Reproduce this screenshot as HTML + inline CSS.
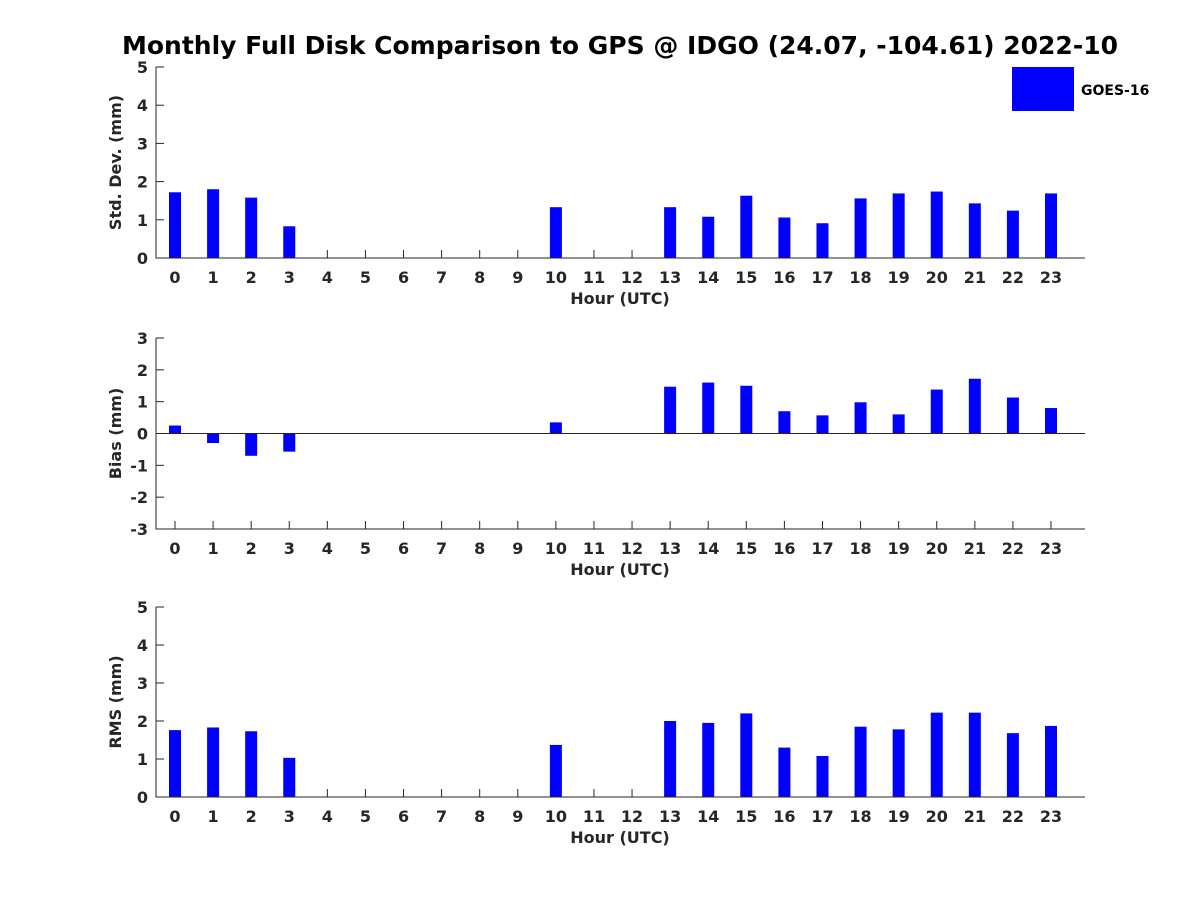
<!DOCTYPE html>
<html><head><meta charset="utf-8"><style>
body{margin:0;background:#fff}
svg{display:block;font-family:"DejaVu Sans","Liberation Sans",sans-serif}
</style></head><body>
<svg id="chart" width="1200" height="900">
<text x="620" y="54" text-anchor="middle" font-size="25" font-weight="bold">Monthly Full Disk Comparison to GPS @ IDGO (24.07, -104.61) 2022-10</text>
<g>
<rect x="1012" y="67" width="62" height="44" fill="#0000ff"></rect>
<text x="1081" y="95" font-size="14" font-weight="bold">GOES-16</text>
</g>
</svg>
<script>
const hours=[0,1,2,3,4,5,6,7,8,9,10,11,12,13,14,15,16,17,18,19,20,21,22,23];
const stdVals=[1.72,1.80,1.58,0.83,null,null,null,null,null,null,1.33,null,null,1.33,1.08,1.63,1.06,0.91,1.56,1.69,1.74,1.43,1.24,1.69];
const biasVals=[0.25,-0.30,-0.70,-0.57,null,null,null,null,null,null,0.35,null,null,1.47,1.60,1.50,0.70,0.57,0.98,0.60,1.38,1.72,1.13,0.80];
const rmsVals=[1.76,1.83,1.73,1.03,null,null,null,null,null,null,1.37,null,null,2.00,1.95,2.20,1.30,1.08,1.85,1.78,2.22,2.22,1.68,1.87];
const stdTicks=[0,1,2,3,4,5];
const biasTicks=[-3,-2,-1,0,1,2,3];
const rmsTicks=[0,1,2,3,4,5];
const svg=document.getElementById('chart');
const NS='http://www.w3.org/2000/svg';
function mk(t,a){const e=document.createElementNS(NS,t);for(const k in a)e.setAttribute(k,a[k]);svg.appendChild(e);return e;}
const xL=156,xR=1085;
const xs=h=>175+h*(1051-175)/23;
function panel(name,vals,ticks,top,bot,ylabel){
  const mn=ticks[0],mx=ticks[ticks.length-1];
  const ys=v=>bot-(v-mn)/(mx-mn)*(bot-top);
  hours.forEach(h=>{
    mk('line',{x1:xs(h),x2:xs(h),y1:bot,y2:bot-8,stroke:'#262626'});
  });
  vals.forEach((v,i)=>{
    if(v===null)return;
    const y0=ys(0),y1=ys(v);
    const r=mk('rect',{x:xs(hours[i])-6,y:Math.min(y0,y1),width:12,height:Math.abs(y1-y0),fill:'#0000ff'});
    
    
  });
  const ax=mk('path',{d:`M${xL} ${top}V${bot}H${xR}`,stroke:'#262626',fill:'none','stroke-width':1});
  
  
  if(mn<0){const z=mk('line',{x1:xL,x2:xR,y1:ys(0),y2:ys(0),stroke:'#262626'});
    
    }
  ticks.forEach(t=>{
    const y=ys(t);
    mk('line',{x1:xL,x2:xL+8,y1:y,y2:y,stroke:'#262626'});
    const tx=mk('text',{x:xL-8,y:y+6,'text-anchor':'end','font-size':16,'font-weight':'bold',fill:'#262626'});
    tx.textContent=t;
    
    
  });
  hours.forEach(h=>{
    const tx=mk('text',{x:xs(h),y:bot+25,'text-anchor':'middle','font-size':16,'font-weight':'bold',fill:'#262626'});
    tx.textContent=h;
    
    
  });
  const xl=mk('text',{x:620,y:bot+46,'text-anchor':'middle','font-size':16,'font-weight':'bold',fill:'#262626'});
  xl.textContent='Hour (UTC)';
  
  
  const cy=(top+bot)/2;
  const yl=mk('text',{x:121,y:cy,'text-anchor':'middle','font-size':16,'font-weight':'bold',fill:'#262626',transform:`rotate(-90 121 ${cy})`});
  yl.textContent=ylabel;
  
  
}
panel('std',stdVals,stdTicks,67,258,'Std. Dev. (mm)');
panel('bias',biasVals,biasTicks,338,529,'Bias (mm)');
panel('rms',rmsVals,rmsTicks,607,797,'RMS (mm)');
</script>
</body></html>
